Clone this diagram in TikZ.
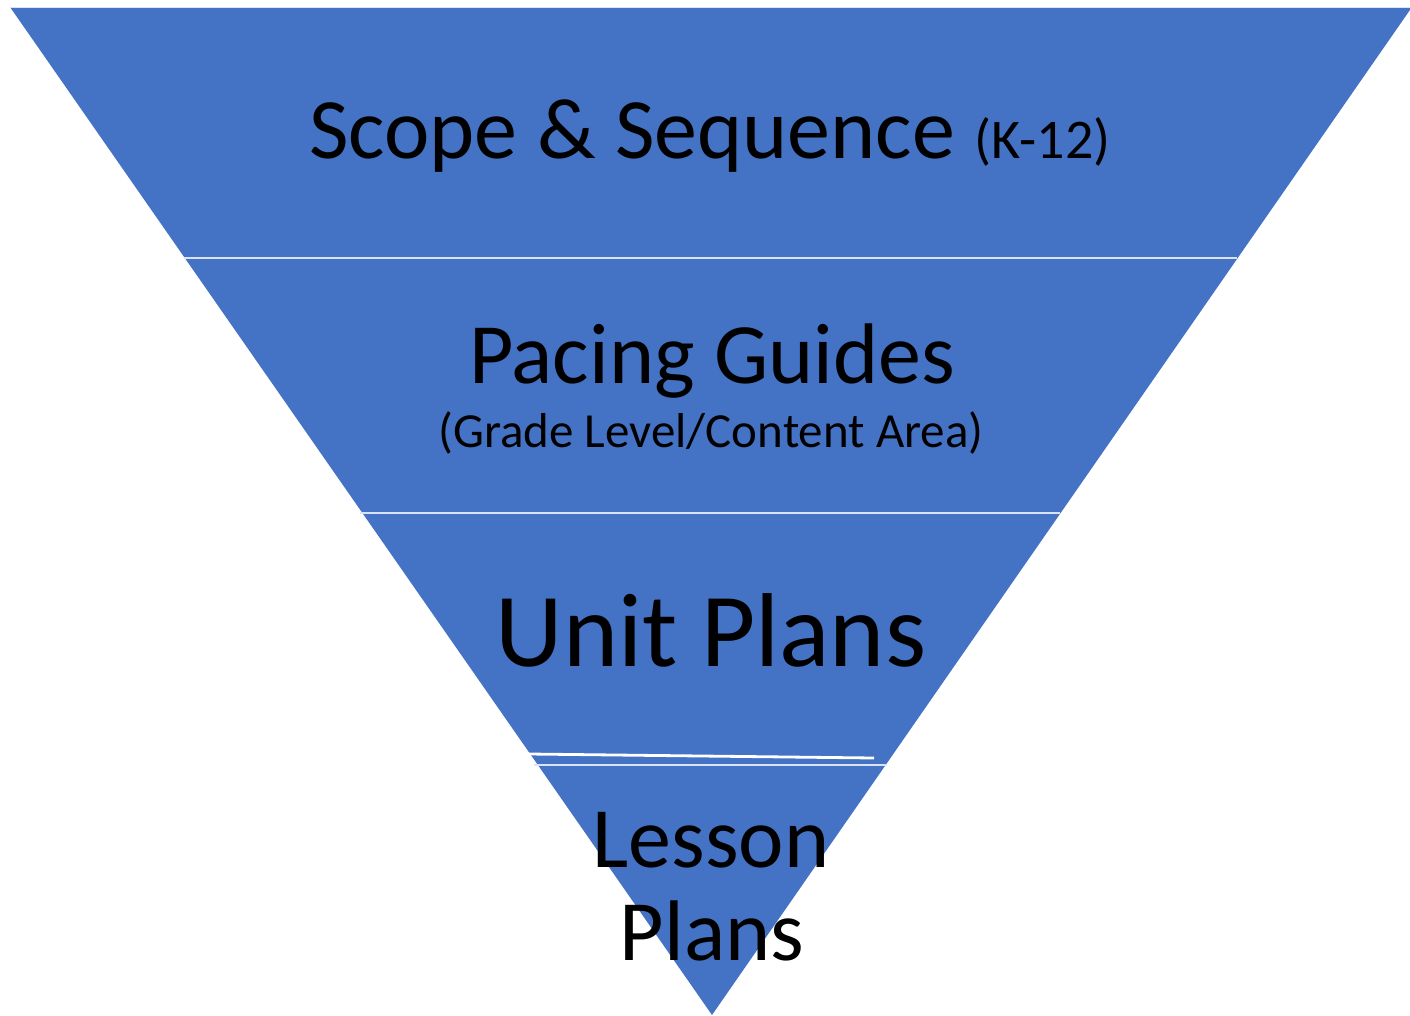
\documentclass[tikz,border=0pt]{standalone}
\usepackage{fontspec}
\setmainfont{Carlito}
\definecolor{tblue}{HTML}{4472C4}
\definecolor{sepcol}{HTML}{D9E3F3}
\begin{document}
\begin{tikzpicture}[x=1pt,y=-1pt,
  sep/.style={draw=sepcol,line width=1.6pt},
  lbl/.style={anchor=base,inner sep=0pt,text=black}]
\useasboundingbox (0,0) rectangle (1410,1015);
\coordinate (tl) at (10,7);
\coordinate (tr) at (1412,7);
\coordinate (ap) at (712,1015);
\fill[tblue] (tl) -- (tr) -- (ap) -- cycle;
\draw[sepcol,line width=1pt] (tl) -- (tr);
% separators
\coordinate (s1l) at (184,258); \coordinate (s1r) at (1237,258);
\coordinate (s2l) at (360,513); \coordinate (s2r) at (1060,513);
\coordinate (s3l) at (534,765); \coordinate (s3r) at (887,765);
\coordinate (wl) at (529,754); \coordinate (wr) at (874,758);
\draw[sep] (s1l) -- (s1r);
\draw[sep] (s2l) -- (s2r);
\draw[sep] (s3l) -- (s3r);
\draw[white,line width=2.8pt] (wl) -- (wr);
% texts
\node[lbl] (scope) at (710,158) {\fontsize{86}{90}\selectfont Scope \& Sequence {\fontsize{56}{60}\selectfont (K-12)}};
\node[lbl] (pacing) at (712,383) {\fontsize{86}{90}\selectfont Pacing Guides};
\node[lbl] (grade) at (711,447) {\fontsize{49}{55}\selectfont (Grade Level/Content Area)};
\node[lbl] (unit) at (711,666) {\fontsize{105}{110}\selectfont Unit Plans};
\node[lbl] (lesson) at (711,867) {\fontsize{86}{90}\selectfont Lesson};
\node[lbl] (plans) at (712,960) {\fontsize{86}{90}\selectfont Plans};
\end{tikzpicture}
\end{document}
